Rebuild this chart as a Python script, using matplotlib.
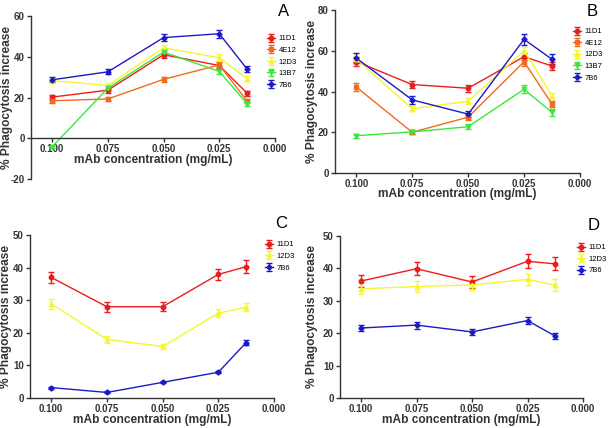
import numpy as np
import matplotlib
matplotlib.use("Agg")
import matplotlib.pyplot as plt

plt.rcParams['font.family'] = ['Liberation Sans', 'DejaVu Sans']
plt.rcParams['axes.unicode_minus'] = False

# concentrations (mg/mL)
conc = [0.100, 0.075, 0.050, 0.025, 0.0125]
xticks = [0.100, 0.075, 0.050, 0.025, 0.000]
xtick_labels = ['0.100', '0.075', '0.050', '0.025', '0.000']

# panel A
a_11D1 = [20.2, 23.6, 41.0, 35.7, 22.1]
a_11D1_err = [1.2, 1.2, 1.8, 1.5, 1.2]
a_4E12 = [18.4, 19.3, 28.9, 36.0, 18.2]
a_4E12_err = [1.0, 1.0, 1.3, 1.5, 1.0]
a_12D3 = [28.3, 25.9, 44.4, 39.5, 29.2]
a_12D3_err = [1.0, 1.2, 1.5, 1.8, 1.3]
a_13B7 = [-4.2, 24.6, 42.3, 32.8, 16.9]
a_13B7_err = [0.5, 1.0, 1.5, 1.3, 1.0]
a_7B6 = [28.7, 32.6, 49.4, 51.3, 33.9]
a_7B6_err = [1.3, 1.3, 1.8, 2.0, 1.5]

# panel B
b_11D1 = [54.7, 43.4, 41.6, 57.1, 52.5]
b_11D1_err = [2.0, 1.8, 1.8, 1.8, 2.0]
b_4E12 = [42.2, 20.0, 27.4, 54.6, 33.8]
b_4E12_err = [2.0, 1.0, 1.2, 2.0, 1.5]
b_12D3 = [56.0, 31.5, 35.2, 60.0, 38.0]
b_12D3_err = [1.5, 1.3, 1.5, 2.0, 1.5]
b_13B7 = [18.3, 20.2, 22.7, 41.1, 29.7]
b_13B7_err = [1.0, 1.0, 1.3, 2.0, 1.5]
b_7B6 = [56.4, 35.9, 28.9, 65.6, 55.8]
b_7B6_err = [2.5, 1.8, 1.3, 2.8, 2.5]

# panel C
c_11D1 = [37.0, 28.0, 28.0, 37.9, 40.3]
c_11D1_err = [1.8, 1.6, 1.4, 1.8, 2.0]
c_12D3 = [28.9, 18.0, 15.8, 26.0, 27.9]
c_12D3_err = [1.5, 1.0, 0.9, 1.3, 1.3]
c_7B6 = [3.2, 1.7, 4.8, 7.9, 17.0]
c_7B6_err = [0.3, 0.3, 0.3, 0.3, 0.8]

# panel D
d_11D1 = [36.1, 39.9, 35.8, 42.2, 41.4]
d_11D1_err = [1.8, 2.0, 1.8, 2.2, 2.0]
d_12D3 = [33.7, 34.4, 34.9, 36.6, 34.8]
d_12D3_err = [1.7, 1.8, 1.7, 1.8, 1.8]
d_7B6 = [21.6, 22.5, 20.4, 23.9, 19.1]
d_7B6_err = [1.0, 1.1, 1.0, 1.2, 0.9]

styles = {
    '11D1': ('#ee1c1c', 'o'),
    '4E12': ('#f26a1b', 's'),
    '12D3': ('#f5f530', '^'),
    '13B7': ('#3ae83a', 'v'),
    '7B6': ('#1a1ac8', 'D'),
}

W, H = 608, 428
fig = plt.figure(figsize=(W / 100, H / 100), dpi=100)


def px_axes(left, top, right, bottom):
    return fig.add_axes([left / W, 1 - bottom / H, (right - left) / W, (bottom - top) / H])


def draw_panel(ax, box, series, ylim, yticks, zero_axis, letter, letter_xy, leg_xy, ylab_x, xlab_y):
    left, top, right, bottom = box
    for name, y, err in series:
        color, marker = styles[name]
        ms = 3.2 if marker != 'D' else 2.6
        ax.errorbar(conc, y, yerr=err, color=color, marker=marker, markersize=ms,
                    linewidth=1.0, elinewidth=1.0, capsize=2, capthick=1.0, label=name)
    ax.set_xlim(0.1095, 0.0)
    ax.set_ylim(*ylim)
    ax.set_xticks(xticks)
    ax.set_xticklabels(xtick_labels)
    ax.set_yticks(yticks)
    for s in ['top', 'right']:
        ax.spines[s].set_visible(False)
    if zero_axis:
        ax.spines['bottom'].set_position(('data', 0))
    for s in ['left', 'bottom']:
        ax.spines[s].set_linewidth(1.0)
        ax.spines[s].set_color('#333333')
    ax.tick_params(labelsize=7, width=1.0, length=3, pad=1.5, colors='#333333')
    for t in ax.get_xticklabels() + ax.get_yticklabels():
        t.set_fontweight('bold')
    ax.set_ylabel('% Phagocytosis increase', fontsize=8.6, fontweight='bold', color='#333333')
    ax.set_xlabel('mAb concentration (mg/mL)', fontsize=8.6, fontweight='bold', color='#333333')
    ax.yaxis.set_label_coords((ylab_x - left) / (right - left), 0.5)
    ax.xaxis.set_label_coords(0.5, (bottom - xlab_y) / (bottom - top))
    ax.yaxis.label.set_va('center')
    ax.xaxis.label.set_va('center')
    fig.text(letter_xy[0] / W, 1 - letter_xy[1] / H, letter, fontsize=12,
             ha='center', va='center')
    ax.legend(loc='upper left', bbox_to_anchor=(leg_xy[0] / W, 1 - leg_xy[1] / H),
              bbox_transform=fig.transFigure, frameon=False, fontsize=5.5,
              handlelength=1.1, handletextpad=0.4, labelspacing=0.55, borderaxespad=0)


boxA = (31, 16, 275, 179)
axA = px_axes(*boxA)
draw_panel(axA, boxA, [('11D1', a_11D1, a_11D1_err), ('4E12', a_4E12, a_4E12_err),
                       ('12D3', a_12D3, a_12D3_err), ('13B7', a_13B7, a_13B7_err),
                       ('7B6', a_7B6, a_7B6_err)],
           (-20, 60), [-20, 0, 20, 40, 60], True, 'A', (284, 11), (264, 32), 7, 160)

boxB = (335, 10, 580, 173)
axB = px_axes(*boxB)
draw_panel(axB, boxB, [('11D1', b_11D1, b_11D1_err), ('4E12', b_4E12, b_4E12_err),
                       ('12D3', b_12D3, b_12D3_err), ('13B7', b_13B7, b_13B7_err),
                       ('7B6', b_7B6, b_7B6_err)],
           (0, 80), [0, 20, 40, 60, 80], False, 'B', (592, 11), (570, 25), 312, 194)

boxC = (30, 235, 274, 398)
axC = px_axes(*boxC)
draw_panel(axC, boxC, [('11D1', c_11D1, c_11D1_err), ('12D3', c_12D3, c_12D3_err),
                       ('7B6', c_7B6, c_7B6_err)],
           (0, 50), [0, 10, 20, 30, 40, 50], False, 'C', (281, 224), (262, 238), 6, 420)

boxD = (340, 236, 583, 398)
axD = px_axes(*boxD)
draw_panel(axD, boxD, [('11D1', d_11D1, d_11D1_err), ('12D3', d_12D3, d_12D3_err),
                       ('7B6', d_7B6, d_7B6_err)],
           (0, 50), [0, 10, 20, 30, 40, 50], False, 'D', (594, 225), (574, 241), 312, 420)

fig.savefig('out.png', dpi=100)
